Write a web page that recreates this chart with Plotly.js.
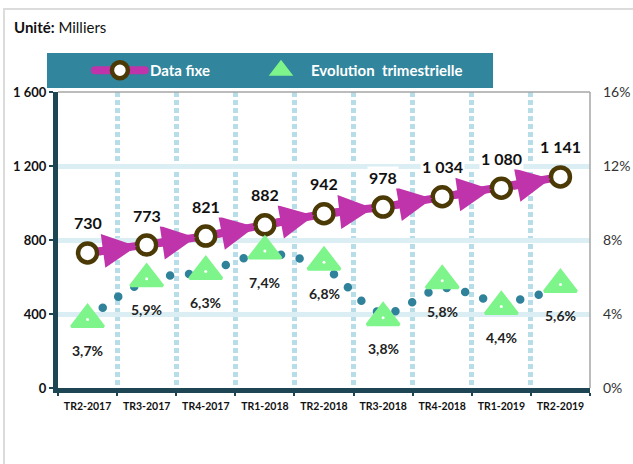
<!DOCTYPE html>
<html>
<head>
<meta charset="utf-8">
<script src="https://cdn.plot.ly/plotly-3.0.1.min.js"></script>
<style>
body { margin: 0; background: #fff; }
#frame { position: absolute; left: 3px; top: 8px; width: 700px; height: 600px;
  border-top: 2px solid #dcdcdc; border-left: 2px solid #dcdcdc; pointer-events: none; }
.js-line { stroke-linecap: round; }
</style>
</head>
<body>
<div id="chart" style="width:633px;height:464px;"></div>
<div id="frame"></div>
<script>
// quarters
var trimestres = ["TR2-2017", "TR3-2017", "TR4-2017", "TR1-2018", "TR2-2018",
                  "TR3-2018", "TR4-2018", "TR1-2019", "TR2-2019"];
// Data fixe, in thousands
var dataFixe = [730, 773, 821, 882, 942, 978, 1034, 1080, 1141];
// quarterly change, %
var evolution = [3.7, 5.9, 6.3, 7.4, 6.8, 3.8, 5.8, 4.4, 5.6];
// dotted trend curve, %
var tendance = [3.7, 5.8, 6.3, 7.25, 6.5, 4.05, 5.4, 4.65, 5.45];

var magenta = "#c034ab";
var brun = "#4b3a06";
var vert = "#7ef58a";
var sarcelle = "#31859c";
var fonce = "#1d4553";
var police = "Lato, 'Liberation Sans', sans-serif";

function milliers(v) {
  return String(v).replace(/\B(?=(\d{3})+(?!\d))/g, " ");
}
function pct(v) {
  return v.toFixed(1).replace(".", ",") + "%";
}

var traces = [
  {
    x: trimestres, y: dataFixe, name: "Data fixe", type: "scatter",
    mode: "lines+markers", legend: "legend",
    line: {color: magenta, width: 8},
    marker: {symbol: "circle", size: 19, color: "#fff", line: {color: brun, width: 4.5}},
    hoverinfo: "skip"
  },
  {
    x: trimestres, y: tendance, yaxis: "y2", type: "scatter", mode: "lines",
    line: {color: "#2f829a", width: 8.5, dash: "0px,19px", shape: "spline", smoothing: 1},
    showlegend: false, hoverinfo: "skip"
  },
  {
    x: trimestres, y: evolution, yaxis: "y2", name: "Evolution\u00a0 trimestrielle",
    type: "scatter", mode: "markers", legend: "legend2",
    marker: {symbol: "triangle-up", size: 28, color: vert, line: {color: vert, width: 3}},
    hoverinfo: "skip"
  },
  {
    x: trimestres, y: evolution, yaxis: "y2", type: "scatter", mode: "markers",
    marker: {symbol: "circle", size: 3, color: "#fff"},
    showlegend: false, hoverinfo: "skip"
  }
];

var annotations = [];
for (var i = 1; i < trimestres.length; i++) {
  annotations.push({
    x: trimestres[i], y: dataFixe[i], xref: "x", yref: "y",
    ax: trimestres[i - 1], ay: dataFixe[i - 1], axref: "x", ayref: "y",
    text: "", showarrow: true, arrowhead: 2, arrowsize: 0.85, arrowwidth: 8,
    arrowcolor: magenta, standoff: 10, startstandoff: 10
  });
}
dataFixe.forEach(function (v, i) {
  annotations.push({
    x: trimestres[i], y: v, xref: "x", yref: "y", yshift: 30,
    text: "<b>" + milliers(v) + "</b>", showarrow: false,
    bgcolor: "#fff", font: {family: police, size: 16, color: "#111"}
  });
});
evolution.forEach(function (v, i) {
  annotations.push({
    x: trimestres[i], y: v, xref: "x", yref: "y2", yshift: -31,
    text: "<b>" + pct(v) + "</b>", showarrow: false,
    font: {family: police, size: 14, color: "#222"}
  });
});

var legendFont = {family: police, size: 15, color: "#fff", weight: "bold"};

var layout = {
  width: 633, height: 464,
  margin: {l: 58, r: 43, t: 92, b: 76},
  paper_bgcolor: "#fff", plot_bgcolor: "#fff",
  separators: ", ",
  font: {family: police, color: "#111"},
  title: {
    text: "<b>Unité:</b> Milliers", x: 14 / 633, xanchor: "left",
    y: 1 - 28 / 464, yanchor: "middle", font: {family: police, size: 15, color: "#111"}
  },
  showlegend: true,
  legend: {
    orientation: "h", x: 0.06, xanchor: "left", y: 1.0726, yanchor: "middle",
    bgcolor: "rgba(0,0,0,0)", itemwidth: 50, font: legendFont
  },
  legend2: {
    orientation: "h", x: 0.3628, xanchor: "left", y: 1.0726, yanchor: "middle",
    bgcolor: "rgba(0,0,0,0)", itemwidth: 50, font: legendFont
  },
  xaxis: {
    type: "category", range: [-0.5, 8.5], tickson: "boundaries", tickangle: 0,
    showline: true, linecolor: fonce, linewidth: 5,
    ticks: "outside", ticklen: 3, tickwidth: 2, tickcolor: fonce,
    showgrid: true, gridcolor: "#b7dde8", gridwidth: 5, griddash: "5px,3px",
    ticklabelstandoff: 4,
    tickfont: {family: police, size: 10.5, color: "#111", weight: "bold"},
    fixedrange: true
  },
  yaxis: {
    range: [0, 1600], dtick: 400, separatethousands: true,
    showline: true, linecolor: fonce, linewidth: 5,
    ticks: "outside", ticklen: 4, tickwidth: 2, tickcolor: fonce,
    showgrid: true, gridcolor: "#daeef3", gridwidth: 5, zeroline: false,
    tickfont: {family: police, size: 13, color: "#111", weight: "bold"},
    fixedrange: true
  },
  yaxis2: {
    overlaying: "y", side: "right", range: [0, 16], dtick: 4, ticksuffix: "%",
    showgrid: false, zeroline: false, showline: false, ticklabelstandoff: 12,
    tickfont: {family: police, size: 14, color: "#333"},
    fixedrange: true
  },
  shapes: [
    {type: "rect", xref: "paper", yref: "paper", x0: -0.0207, x1: 0.8177,
     y0: 1.0135, y1: 1.1318, fillcolor: sarcelle, line: {width: 0}, layer: "below"},
    {type: "line", xref: "paper", yref: "paper", x0: 0, x1: 1, y0: 1, y1: 1,
     line: {color: "#a6a6a6", width: 1.5}},
    {type: "line", xref: "paper", yref: "paper", x0: 1, x1: 1, y0: 0, y1: 1,
     line: {color: "#a6a6a6", width: 1.5}}
  ],
  annotations: annotations
};

Plotly.newPlot("chart", traces, layout, {displayModeBar: false, staticPlot: true});
</script>
</body>
</html>
